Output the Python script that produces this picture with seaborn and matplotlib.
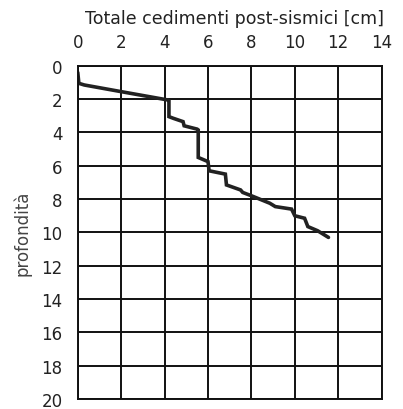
import matplotlib
matplotlib.use("Agg")
import matplotlib.pyplot as plt
import seaborn as sns
import pandas as pd

# Cumulative post-seismic settlement (cm) against depth (m)
settlement_cm = [0.0, 0.05, 0.3, 2.0, 4.15, 4.2, 4.2, 4.4, 4.85, 4.9, 5.5, 5.55,
                 5.55, 6.0, 6.05, 6.8, 6.85, 7.5, 7.6, 8.0, 8.85, 9.1, 9.85,
                 10.0, 10.45, 10.6, 11.05, 11.55]
depth_m = [0.4, 1.05, 1.15, 1.55, 2.05, 2.1, 3.05, 3.15, 3.35, 3.6, 3.8, 3.85,
           5.5, 5.75, 6.3, 6.5, 7.15, 7.45, 7.6, 7.8, 8.25, 8.45, 8.6,
           9.0, 9.15, 9.65, 9.9, 10.3]

x_ticks = [0, 2, 4, 6, 8, 10, 12, 14]
y_ticks = [0, 2, 4, 6, 8, 10, 12, 14, 16, 18, 20]

title_text = "Totale cedimenti post-sismici [cm]"
ylabel_text = "profondità"

df = pd.DataFrame({"cedimento": settlement_cm, "profondita": depth_m})

sns.set_style("white")
plt.rcParams["font.family"] = ["DejaVu Sans"]

fig = plt.figure(figsize=(4.03, 4.10), dpi=100)
ax = fig.add_axes([0.193, 0.0244, 0.754, 0.8126])

sns.lineplot(data=df, x="cedimento", y="profondita", sort=False,
             estimator=None, color="#222222", linewidth=2.6, ax=ax,
             solid_joinstyle="miter")

ax.set_xlim(0, 14)
ax.set_ylim(20, 0)
ax.set_xticks(x_ticks)
ax.set_yticks(y_ticks)
ax.xaxis.tick_top()
ax.xaxis.set_label_position("top")
ax.grid(True, color="#111111", linewidth=1.4)
for s in ax.spines.values():
    s.set_color("#111111")
    s.set_linewidth(1.4)
ax.tick_params(axis="both", length=4, width=1.2, color="#111111",
               labelsize=12, labelcolor="#222222", pad=7)
ax.tick_params(axis="x", length=0, pad=11)
ax.set_xlabel(title_text, fontsize=12.5, color="#222222", labelpad=7)
ax.xaxis.label.set_x(0.515)
ax.set_ylabel(ylabel_text, fontsize=12, color="#444444", labelpad=7)

fig.savefig("out.png", dpi=100)
